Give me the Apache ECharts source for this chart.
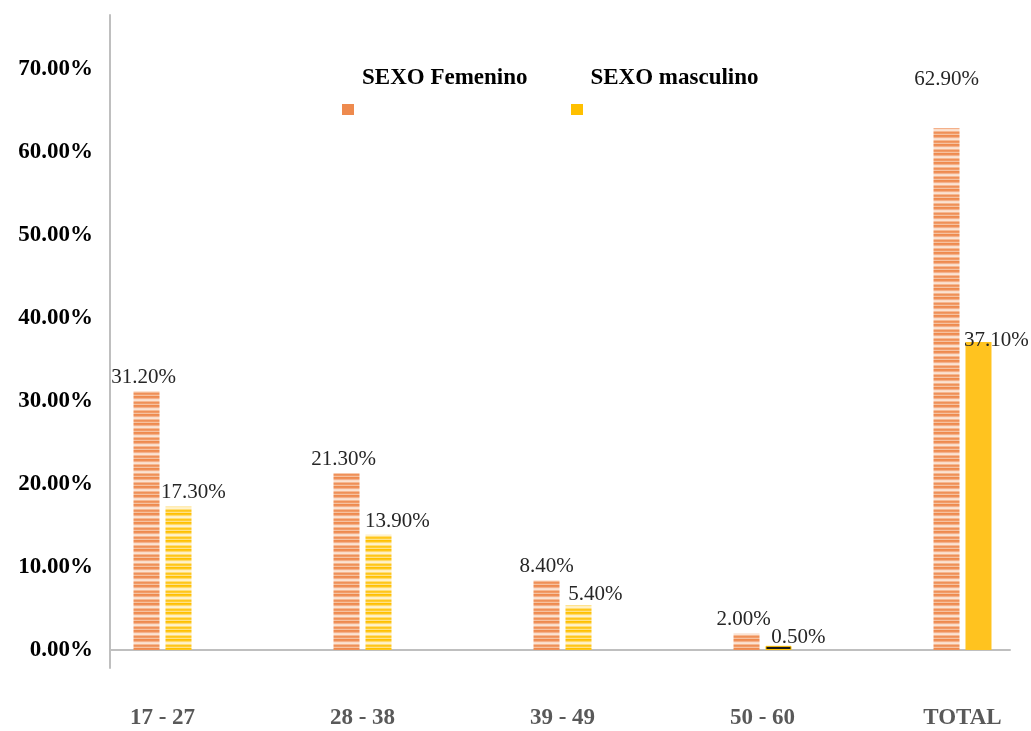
<!DOCTYPE html>
<html><head><meta charset="utf-8">
<script src="https://cdn.jsdelivr.net/npm/echarts@6/dist/echarts.min.js"></script>
<style>html,body{margin:0;padding:0;background:#fff}#c{width:1031px;height:731px}</style>
</head><body><div id="c"></div>
<script>
// ---- data ----
var categories = ['17 - 27', '28 - 38', '39 - 49', '50 - 60', 'TOTAL'];
var seriesNames = ['SEXO Femenino', 'SEXO masculino'];
var femenino = [31.2, 21.3, 8.4, 2.0, 62.9];
var masculino = [17.3, 13.9, 5.4, 0.5, 37.1];
var yTicks = [0, 10, 20, 30, 40, 50, 60, 70];

// ---- styles ----
function stripes(rows) {
  var c = document.createElement('canvas');
  c.width = 4; c.height = rows.length;
  var g = c.getContext('2d');
  rows.forEach(function (col, i) { g.fillStyle = col; g.fillRect(0, i, 4, 1); });
  return { image: c, repeat: 'repeat' };
}
var orangePat = stripes(['#EE8A4E','#EF9058','#F4B08A','#FADCC8','#FBE3D3','#F5B892','#EF9058','#F19C69','#F6C2A1']);
var yellowPat = stripes(['#FFC000','#FFC61A','#FFDA6A','#FFEFC0','#FFF2CC','#FFDE78','#FFC61A','#FFCC33','#FFE28A']);
var femLabelOffsets = [[-3,0],[-3,0],[0,0],[-3,0],[0,-35]];
var masLabelOffsets = [[15,0],[19,0],[17,3],[20,5],[18,12]];
var masColors = [yellowPat, yellowPat, yellowPat, '#1a1a1a', '#FFC31F'];

var serif = '"Liberation Serif", "Times New Roman", serif';
var yMax = 76.5;

var chart = echarts.init(document.getElementById('c'));
chart.setOption({
  animation: false,
  backgroundColor: '#fff',
  grid: [
    { left: 62.5, right: -31.5, top: 15, bottom: 81, outerBoundsMode: 'none', containLabel: false },
    { left: 110, right: 21, top: 15, bottom: 63, outerBoundsMode: 'none', containLabel: false }
  ],
  legend: [
    { // icons only
      left: 342, top: 104, padding: 0, selectedMode: false,
      itemWidth: 12, itemHeight: 11, itemGap: 217, icon: 'rect',
      data: [
        { name: seriesNames[0], itemStyle: { color: '#EE8A4E' } },
        { name: seriesNames[1], itemStyle: { color: '#FFC000' } }
      ],
      formatter: function () { return ''; },
      textStyle: { fontSize: 6 }
    },
    { // texts only
      left: 357, top: 67, padding: 0, selectedMode: false,
      itemWidth: 0, itemHeight: 0, itemGap: 58, icon: 'rect',
      data: [
        { name: seriesNames[0], itemStyle: { color: 'rgba(0,0,0,0)' } },
        { name: seriesNames[1], itemStyle: { color: 'rgba(0,0,0,0)' } }
      ],
      textStyle: { fontFamily: serif, fontWeight: 'bold', fontSize: 23, color: '#000' }
    }
  ],
  xAxis: [
    { type: 'category', gridIndex: 0, data: categories,
      axisLine: { show: false }, axisTick: { show: false },
      axisLabel: { margin: 57, fontFamily: serif, fontWeight: 'bold', fontSize: 23, color: '#595959' } },
    { type: 'value', gridIndex: 1, min: 0, max: 1,
      axisLine: { show: true, onZero: true, lineStyle: { color: '#BFBFBF', width: 2 } },
      axisTick: { show: false }, axisLabel: { show: false }, splitLine: { show: false } }
  ],
  yAxis: [
    { type: 'value', gridIndex: 0, min: yTicks[0], max: yMax, interval: 10, offset: -47.5,
      axisLine: { show: false }, axisTick: { show: false }, splitLine: { show: false },
      axisLabel: { showMaxLabel: false, margin: 17, padding: [12, 0, 0, 0],
        fontFamily: serif, fontWeight: 'bold', fontSize: 23, color: '#000',
        formatter: function (v) { return v.toFixed(2) + '%'; } } },
    { type: 'value', gridIndex: 1, min: -2.17, max: yMax,
      axisLine: { show: true, lineStyle: { color: '#BFBFBF', width: 2 } },
      axisTick: { show: false }, axisLabel: { show: false }, splitLine: { show: false } }
  ],
  series: [
    { name: seriesNames[0], type: 'bar', xAxisIndex: 0, yAxisIndex: 0,
      barWidth: 26, barGap: '23%',
      itemStyle: { color: orangePat },
      data: femenino.map(function (v, i) {
        return { value: v, label: { offset: femLabelOffsets[i] } };
      }),
      label: { show: true, position: 'top', distance: 3, fontFamily: serif, fontSize: 21, color: '#262626',
        formatter: function (p) { return p.value.toFixed(2) + '%'; } } },
    { name: seriesNames[1], type: 'bar', xAxisIndex: 0, yAxisIndex: 0,
      barWidth: 26, barGap: '23%',
      itemStyle: { color: yellowPat },
      data: masculino.map(function (v, i) {
        return { value: v, itemStyle: { color: masColors[i], borderColor: i === 3 ? '#FFC000' : null, borderWidth: i === 3 ? 1 : 0 },
                 label: { offset: masLabelOffsets[i] } };
      }),
      label: { show: true, position: 'top', distance: 3, fontFamily: serif, fontSize: 21, color: '#262626',
        formatter: function (p) { return p.value.toFixed(2) + '%'; } } }
  ]
});
</script></body></html>
